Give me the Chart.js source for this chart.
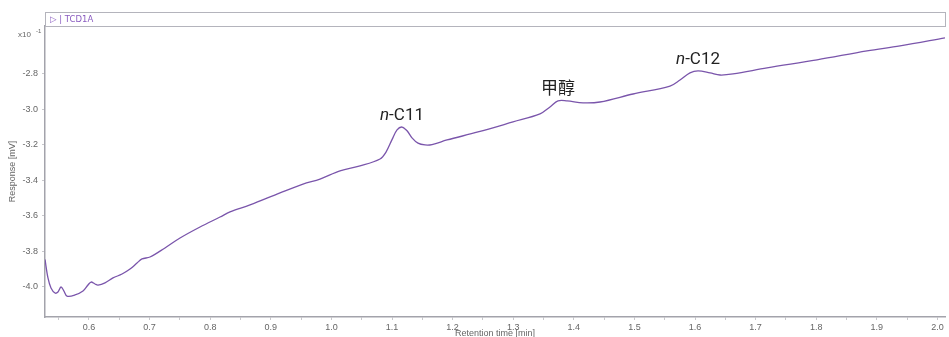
<!DOCTYPE html>
<html>
<head>
<meta charset="utf-8">
<script src="https://cdn.jsdelivr.net/npm/chart.js@4/dist/chart.umd.min.js"></script>
<style>
  html, body { margin: 0; padding: 0; background: #ffffff; }
  #wrap { width: 949px; height: 337px; position: relative; }
</style>
</head>
<body>
<div id="wrap"><canvas id="chart" width="949" height="337"></canvas></div>
<script>
// TCD1A trace: retention time [min] vs response [mV x10^-1]
const retentionTime = [
  0.5274, 0.5323, 0.5373, 0.5439, 0.5488, 0.5538, 0.5587, 0.5637, 0.5769, 0.5901,
  0.5983, 0.6033, 0.6099, 0.6149, 0.6264, 0.6396, 0.6545, 0.6677, 0.6792, 0.6875,
  0.7007, 0.7254, 0.7502, 0.7832, 0.8162, 0.8327, 0.8657, 0.9152, 0.9531, 0.9812,
  1.0142, 1.0472, 1.0802, 1.0901, 1.1000, 1.1083, 1.1165, 1.1248, 1.1330, 1.1429,
  1.1545, 1.1660, 1.1908, 1.2419, 1.2997, 1.3442, 1.3607, 1.3739, 1.3888, 1.4152,
  1.4432, 1.4977, 1.5587, 1.5752, 1.5917, 1.6050, 1.6248, 1.6413, 1.6627, 1.7188,
  1.8013, 1.8838, 1.9383, 2.0125
];
const response = [
  -3.845, -3.949, -4.006, -4.034, -4.028, -4.000, -4.023, -4.051, -4.045, -4.023,
  -3.989, -3.972, -3.983, -3.989, -3.977, -3.949, -3.927, -3.899, -3.865, -3.842,
  -3.831, -3.780, -3.724, -3.662, -3.606, -3.577, -3.538, -3.470, -3.420, -3.392,
  -3.346, -3.318, -3.279, -3.240, -3.170, -3.115, -3.099, -3.120, -3.160, -3.190,
  -3.200, -3.198, -3.172, -3.127, -3.070, -3.025, -2.986, -2.952, -2.952, -2.963,
  -2.958, -2.913, -2.868, -2.834, -2.794, -2.783, -2.794, -2.806, -2.800, -2.766,
  -2.721, -2.670, -2.642, -2.597
];

// Peak names and where they sit on the trace
const peakNames = ['n-C11', '甲醇', 'n-C12'];
const peakTimes = [1.1165, 1.3739, 1.6050];
const peakResponses = [-3.099, -2.952, -2.783];

// Axis tick labels
const xTickLabels = ['0.6', '0.7', '0.8', '0.9', '1.0', '1.1', '1.2', '1.3', '1.4', '1.5', '1.6', '1.7', '1.8', '1.9', '2.0'];
const yTickLabels = ['-4.0', '-3.8', '-3.6', '-3.4', '-3.2', '-3.0', '-2.8'];

const lineColor = '#7a55ab';
const axisColor = '#a3a3ab';
const tickFont = { family: '"Liberation Sans", Arial, sans-serif', size: 9 };

const points = retentionTime.map((t, i) => ({ x: t, y: response[i] }));

const decorations = {
  id: 'decorations',
  afterDraw(chart) {
    const { ctx, chartArea, scales } = chart;
    ctx.save();

    // header strip with trace name
    ctx.strokeStyle = '#b4b4bc';
    ctx.lineWidth = 1;
    ctx.strokeRect(chartArea.left + 0.5, 12.5, chartArea.right - chartArea.left, 14);
    ctx.fillStyle = '#8a5cc0';
    ctx.font = '8.5px "DejaVu Sans", sans-serif';
    ctx.textBaseline = 'middle';
    ctx.textAlign = 'left';
    ctx.fillText('▷ | TCD1A', chartArea.left + 5, 19.5);

    // exponent marker
    ctx.fillStyle = '#666666';
    ctx.font = '8px "Liberation Sans", Arial, sans-serif';
    ctx.textBaseline = 'alphabetic';
    ctx.fillText('x10', 18, 37);
    ctx.font = '6px "Liberation Sans", Arial, sans-serif';
    ctx.fillText('-1', 36, 33);

    // axis titles
    ctx.fillStyle = '#666666';
    ctx.font = '9px "Liberation Sans", Arial, sans-serif';
    ctx.textAlign = 'center';
    ctx.textBaseline = 'middle';
    ctx.fillText('Retention time [min]', (chartArea.left + chartArea.right) / 2, 334);
    ctx.save();
    ctx.translate(13, (chartArea.top + chartArea.bottom) / 2);
    ctx.rotate(-Math.PI / 2);
    ctx.fillText('Response [mV]', 0, 0);
    ctx.restore();

    // peak labels
    ctx.fillStyle = '#222222';
    ctx.textBaseline = 'middle';
    peakNames.forEach((name, i) => {
      const px = scales.x.getPixelForValue(peakTimes[i]);
      const peakY = scales.y.getPixelForValue(peakResponses[i]);
      const size = 17;
      if (name.startsWith('n-')) {
        const py = peakY - 11;
        const italicFont = 'italic ' + size + 'px Roboto, "Noto Sans", sans-serif';
        const normalFont = size + 'px Roboto, "Noto Sans", sans-serif';
        ctx.font = italicFont;
        const w1 = ctx.measureText('n').width;
        ctx.font = normalFont;
        const rest = name.slice(1);
        const w2 = ctx.measureText(rest).width;
        const start = px - (w1 + w2) / 2;
        ctx.textAlign = 'left';
        ctx.font = italicFont;
        ctx.fillText('n', start, py);
        ctx.font = normalFont;
        ctx.fillText(rest, start + w1, py);
      } else {
        ctx.textAlign = 'center';
        ctx.font = size + 'px "Noto Sans CJK SC", sans-serif';
        ctx.fillText(name, px, peakY - 13);
      }
    });
    ctx.restore();
  }
};

new Chart(document.getElementById('chart'), {
  type: 'line',
  data: {
    datasets: [{
      data: points,
      borderColor: lineColor,
      borderWidth: 1.3,
      pointRadius: 0,
      tension: 0.35,
      fill: false
    }]
  },
  options: {
    responsive: false,
    animation: false,
    events: [],
    layout: { padding: { top: 26, right: 4, left: 0, bottom: 0 } },
    plugins: { legend: { display: false }, tooltip: { enabled: false } },
    scales: {
      x: {
        type: 'linear',
        min: 0.5274,
        max: 2.0125,
        afterFit(scale) { scale.height = 20; },
        afterBuildTicks(scale) {
          const ticks = [];
          for (let i = 0; i < xTickLabels.length; i++) {
            const v = parseFloat(xTickLabels[i]);
            ticks.push({ value: v });
            if (v - 0.05 > scale.min) ticks.push({ value: v - 0.05 });
          }
          ticks.sort((a, b) => a.value - b.value);
          scale.ticks = ticks;
        },
        ticks: {
          autoSkip: false,
          maxRotation: 0,
          padding: 2,
          color: '#666666',
          font: tickFont,
          callback(value) {
            const s = value.toFixed(1);
            return (Math.abs(value * 10 - Math.round(value * 10)) < 1e-6 && xTickLabels.includes(s)) ? s : '';
          }
        },
        grid: { drawOnChartArea: false, tickLength: 3, color: '#c8c8cc' },
        border: { color: axisColor, width: 1.5 }
      },
      y: {
        type: 'linear',
        min: -4.169,
        max: -2.530,
        afterFit(scale) { scale.width = 45; },
        afterBuildTicks(scale) {
          scale.ticks = yTickLabels.map(l => ({ value: parseFloat(l) }));
        },
        ticks: {
          autoSkip: false,
          padding: 4,
          color: '#666666',
          font: tickFont,
          callback(value) { return value.toFixed(1); }
        },
        grid: { drawOnChartArea: false, tickLength: 3, color: '#c8c8cc' },
        border: { color: axisColor, width: 1.5 }
      }
    }
  },
  plugins: [decorations]
});
</script>
</body>
</html>
